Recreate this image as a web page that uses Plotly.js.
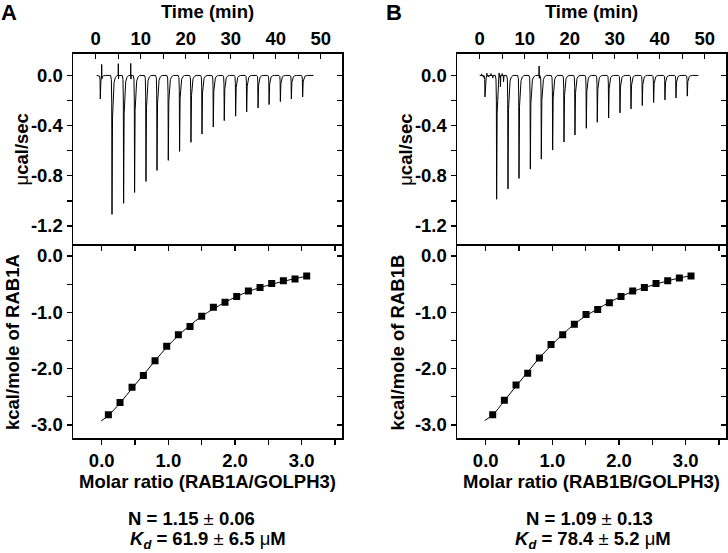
<!DOCTYPE html>
<html>
<head>
<meta charset="utf-8">
<script src="https://cdn.plot.ly/plotly-3.0.1.min.js"></script>
<style>html,body{margin:0;padding:0;background:#fff}#chart{width:728px;height:553px}</style>
</head>
<body>
<div id="chart"></div>
<script>
// ---------- DATA ----------
// Panel A thermogram: injection times (min) and peak heights (µcal/sec)
const injTimeA = [0.96, 3.56, 6.14, 8.58, 11.11, 13.56, 16.07, 18.58, 21.11, 23.56, 26.07, 28.51, 31.04, 33.49, 36.02, 38.47, 40.98, 43.42, 45.93];
const injPeakA = [-0.187, -1.107, -1.019, -0.933, -0.845, -0.757, -0.677, -0.605, -0.533, -0.467, -0.411, -0.36, -0.325, -0.291, -0.259, -0.232, -0.208, -0.187, -0.171];
const spikeTimeA = [1.33, 5.02, 7.78];
const spikeValA = [0.088, 0.094, 0.096];
const baseStartA = 0.2, baseEndA = 48.4;

// Panel B thermogram
const injTimeB = [1.11, 3.70, 6.22, 8.67, 11.19, 13.63, 16.15, 18.67, 21.11, 23.63, 26.07, 28.59, 31.11, 33.56, 36.07, 38.59, 41.11, 43.56, 46.07];
const injPeakB = [-0.171, -0.987, -0.904, -0.821, -0.747, -0.667, -0.595, -0.531, -0.475, -0.421, -0.373, -0.339, -0.299, -0.267, -0.24, -0.216, -0.195, -0.179, -0.165];
const spikeTimeB = [0.4, 0.8, 1.6, 2.0, 2.5, 2.9, 4.3, 4.6, 5.0, 5.3, 13.2];
const spikeValB = [0.012, -0.015, 0.018, -0.012, 0.015, -0.02, 0.02, -0.09, 0.015, -0.05, 0.075];
const baseStartB = 0.0, baseEndB = 48.6;

// Panel A isotherm
const ratioA = [0.10, 0.275, 0.455, 0.625, 0.80, 0.975, 1.15, 1.325, 1.50, 1.675, 1.85, 2.025, 2.20, 2.375, 2.55, 2.725, 2.90, 3.075];
const heatA  = [-2.82, -2.60, -2.33, -2.12, -1.86, -1.60, -1.40, -1.25, -1.07, -0.91, -0.82, -0.72, -0.62, -0.56, -0.49, -0.44, -0.41, -0.355];
const fitXA = [-0.01, 0.10, 0.275, 0.455, 0.625, 0.80, 0.975, 1.15, 1.325, 1.50, 1.675, 1.85, 2.025, 2.20, 2.375, 2.55, 2.725, 2.90, 3.075];
const fitYA = [-2.93, -2.83, -2.61, -2.35, -2.11, -1.86, -1.62, -1.41, -1.23, -1.07, -0.94, -0.82, -0.72, -0.63, -0.56, -0.50, -0.45, -0.40, -0.36];

// Panel B isotherm
const ratioB = [0.105, 0.28, 0.455, 0.63, 0.805, 0.98, 1.155, 1.33, 1.505, 1.68, 1.855, 2.03, 2.205, 2.38, 2.555, 2.73, 2.905, 3.08];
const heatB  = [-2.82, -2.56, -2.29, -2.08, -1.81, -1.57, -1.40, -1.21, -1.04, -0.95, -0.83, -0.72, -0.62, -0.56, -0.49, -0.44, -0.39, -0.355];
const fitXB = [-0.015, 0.105, 0.28, 0.455, 0.63, 0.805, 0.98, 1.155, 1.33, 1.505, 1.68, 1.855, 2.03, 2.205, 2.38, 2.555, 2.73, 2.905, 3.08];
const fitYB = [-2.92, -2.82, -2.57, -2.31, -2.06, -1.81, -1.59, -1.39, -1.21, -1.06, -0.94, -0.82, -0.72, -0.63, -0.56, -0.50, -0.44, -0.39, -0.35];

// Tick labels (major, labelled) and minor tick positions
const timeTickVals = [0, 10, 20, 30, 40, 50];
const timeTickText = ['0', '10', '20', '30', '40', '50'];
const timeMinor = [5, 15, 25, 35, 45];
const powerTickVals = [-1.2, -0.8, -0.4, 0.0];
const powerTickText = ['-1.2', '-0.8', '-0.4', '0.0'];
const powerMinor = [-1.0, -0.6, -0.2];
const heatTickVals = [-3.0, -2.0, -1.0, 0.0];
const heatTickText = ['-3.0', '-2.0', '-1.0', '0.0'];
const heatMinor = [-2.5, -1.5, -0.5];
const ratioTickVals = [0, 1, 2, 3];
const ratioTickText = ['0.0', '1.0', '2.0', '3.0'];
const ratioMinor = [0.5, 1.5, 2.5, 3.5];

// ---------- BUILD ----------
function thermo(start, end, injT, injP, spT, spV) {
  const ev = [];
  injT.forEach((t, i) => {
    const d = injP[i];
    ev.push([t - 0.25, 0], [t - 0.08, 0.03 * d], [t, 0.2 * d], [t + 0.06, d],
            [t + 0.18, 0.3 * d], [t + 0.32, 0.12 * d], [t + 0.52, 0.05 * d],
            [t + 0.8, 0.015 * d], [t + 1.2, 0]);
  });
  spT.forEach((t, i) => {
    ev.push([t - 0.04, 0], [t, spV[i]], [t + 0.05, -0.3 * Math.abs(spV[i])], [t + 0.1, 0]);
  });
  ev.sort((a, b) => a[0] - b[0]);
  const x = [start], y = [0];
  ev.forEach(p => { x.push(p[0]); y.push(p[1]); });
  x.push(end); y.push(0);
  return {x, y};
}
const thA = thermo(baseStartA, baseEndA, injTimeA, injPeakA, spikeTimeA, spikeValA);
const thB = thermo(baseStartB, baseEndB, injTimeB, injPeakB, spikeTimeB, spikeValB);

const FAM = 'Liberation Sans, Arial, Helvetica, sans-serif';
const FS = 18.5;
const bold = {family: FAM, size: FS, color: '#000', weight: 'bold'};
const W = 728, H = 553;
const px = v => v / W, py = v => 1 - v / H;

const xDomA = [px(73.3), px(341.7)], xDomB = [px(457.3), px(725.7)];
const yDomTop = [py(245.7), py(54)], yDomBot = [py(438.3), py(245.7)];
const timeRange = [-4.98, 54.67], powerRange = [-1.357, 0.171];
const ratioRange = [-0.426, 3.6], heatRange = [-3.236, 0.183];
const LW = 1.8;

const base = {showgrid: false, zeroline: false, showline: true, linecolor: '#000', linewidth: LW,
  tickcolor: '#000', tickwidth: 1.3, ticklen: 5, tickfont: bold, tickmode: 'array', fixedrange: true};
const minorOf = (vals, dir) => ({tickmode: 'array', tickvals: vals, ticks: dir, ticklen: 5, tickwidth: 1.3, tickcolor: '#000', showgrid: false});

function timeAx(dom, anchor) {
  return Object.assign({}, base, {domain: dom, anchor: anchor, side: 'top', range: timeRange,
    tickvals: timeTickVals, ticktext: timeTickText, ticks: 'inside', minor: minorOf(timeMinor, 'inside'),
    title: {text: '<b>Time (min)</b>', font: bold, standoff: 4}});
}
function powAx(dom, anchor) {
  return Object.assign({}, base, {domain: dom, anchor: anchor, range: powerRange,
    tickvals: powerTickVals, ticktext: powerTickText, ticks: 'outside', minor: minorOf(powerMinor, 'outside')});
}
function powRight(over, anchor) {
  return Object.assign({}, base, {overlaying: over, anchor: anchor, side: 'right', range: powerRange,
    tickvals: powerTickVals, ticks: 'inside', showticklabels: false, minor: minorOf(powerMinor, 'inside')});
}
function ratioAx(dom, anchor, name) {
  return Object.assign({}, base, {domain: dom, anchor: anchor, range: ratioRange,
    tickvals: ratioTickVals, ticktext: ratioTickText, ticks: 'outside', minor: minorOf(ratioMinor, 'outside'),
    title: {text: '<b>Molar ratio (' + name + '/GOLPH3)</b>', font: bold, standoff: 5}});
}
function ratioTop(over, anchor) {
  return Object.assign({}, base, {overlaying: over, anchor: anchor, side: 'top', range: ratioRange,
    tickvals: ratioTickVals, ticks: 'inside', showticklabels: false, minor: minorOf(ratioMinor, 'inside')});
}
function heatAx(dom, anchor) {
  return Object.assign({}, base, {domain: dom, anchor: anchor, range: heatRange,
    tickvals: heatTickVals, ticktext: heatTickText, ticks: 'outside', minor: minorOf(heatMinor, 'outside')});
}
function heatRight(over, anchor) {
  return Object.assign({}, base, {overlaying: over, anchor: anchor, side: 'right', range: heatRange,
    tickvals: heatTickVals, ticks: 'inside', showticklabels: false, minor: minorOf(heatMinor, 'inside')});
}

const lineT = {color: '#000', width: 1};
const traces = [
  {x: thA.x, y: thA.y, xaxis: 'x', yaxis: 'y', mode: 'lines', line: lineT, hoverinfo: 'skip'},
  {x: fitXA, y: fitYA, xaxis: 'x2', yaxis: 'y2', mode: 'lines', line: {color: '#000', width: 1, shape: 'spline'}},
  {x: ratioA, y: heatA, xaxis: 'x2', yaxis: 'y2', mode: 'markers', marker: {symbol: 'square', size: 7, color: '#000'}},
  {x: [], y: [], xaxis: 'x', yaxis: 'y3'},
  {x: [], y: [], xaxis: 'x3', yaxis: 'y2'},
  {x: [], y: [], xaxis: 'x2', yaxis: 'y4'},
  {x: thB.x, y: thB.y, xaxis: 'x4', yaxis: 'y5', mode: 'lines', line: lineT, hoverinfo: 'skip'},
  {x: fitXB, y: fitYB, xaxis: 'x5', yaxis: 'y6', mode: 'lines', line: {color: '#000', width: 1, shape: 'spline'}},
  {x: ratioB, y: heatB, xaxis: 'x5', yaxis: 'y6', mode: 'markers', marker: {symbol: 'square', size: 7, color: '#000'}},
  {x: [], y: [], xaxis: 'x4', yaxis: 'y7'},
  {x: [], y: [], xaxis: 'x6', yaxis: 'y6'},
  {x: [], y: [], xaxis: 'x5', yaxis: 'y8'}
];

const ann = (text, x, y, extra) => Object.assign({text: text, x: px(x), y: py(y), xref: 'paper', yref: 'paper',
  showarrow: false, xanchor: 'center', yanchor: 'middle', font: {family: FAM, size: FS, color: '#000'}}, extra || {});
const mu = '<span style="font-weight:normal">μ</span>';
const pm = '<span style="font-weight:normal">±</span>';

const layout = {
  width: W, height: H, margin: {l: 0, r: 0, t: 0, b: 0}, paper_bgcolor: '#fff', plot_bgcolor: 'rgba(0,0,0,0)',
  showlegend: false, font: {family: FAM, color: '#000'},
  xaxis: timeAx(xDomA, 'y'),
  yaxis: powAx(yDomTop, 'x'),
  xaxis2: ratioAx(xDomA, 'y2', 'RAB1A'),
  yaxis2: heatAx(yDomBot, 'x2'),
  yaxis3: powRight('y', 'x'),
  xaxis3: ratioTop('x2', 'y2'),
  yaxis4: heatRight('y2', 'x2'),
  xaxis4: timeAx(xDomB, 'y5'),
  yaxis5: powAx(yDomTop, 'x4'),
  xaxis5: ratioAx(xDomB, 'y6', 'RAB1B'),
  yaxis6: heatAx(yDomBot, 'x5'),
  yaxis7: powRight('y5', 'x4'),
  xaxis6: ratioTop('x5', 'y6'),
  yaxis8: heatRight('y6', 'x5'),
  annotations: [
    ann('<b>A</b>', 9, 12.7, {font: {family: FAM, size: 22, color: '#000'}}),
    ann('<b>B</b>', 393.5, 12.7, {font: {family: FAM, size: 22, color: '#000'}}),
    ann(mu + '<b>cal/sec</b>', 20.5, 150, {textangle: -90}),
    ann('<b>kcal/mole of RAB1A</b>', 12, 342, {textangle: -90}),
    ann(mu + '<b>cal/sec</b>', 404.8, 150, {textangle: -90}),
    ann('<b>kcal/mole of RAB1B</b>', 396.5, 342, {textangle: -90}),
    ann('<b>N = 1.15 </b>' + pm + '<b> 0.06</b>', 191.7, 518.5),
    ann('<b><i>K<sub>d</sub></i> = 61.9 </b>' + pm + '<b> 6.5 </b>' + mu + '<b>M</b>', 208, 539.5),
    ann('<b>N = 1.09 </b>' + pm + '<b> 0.13</b>', 589, 518.5),
    ann('<b><i>K<sub>d</sub></i> = 78.4 </b>' + pm + '<b> 5.2 </b>' + mu + '<b>M</b>', 593, 539.5)
  ]
};

Plotly.newPlot('chart', traces, layout, {staticPlot: true, displayModeBar: false});
</script>
</body>
</html>
